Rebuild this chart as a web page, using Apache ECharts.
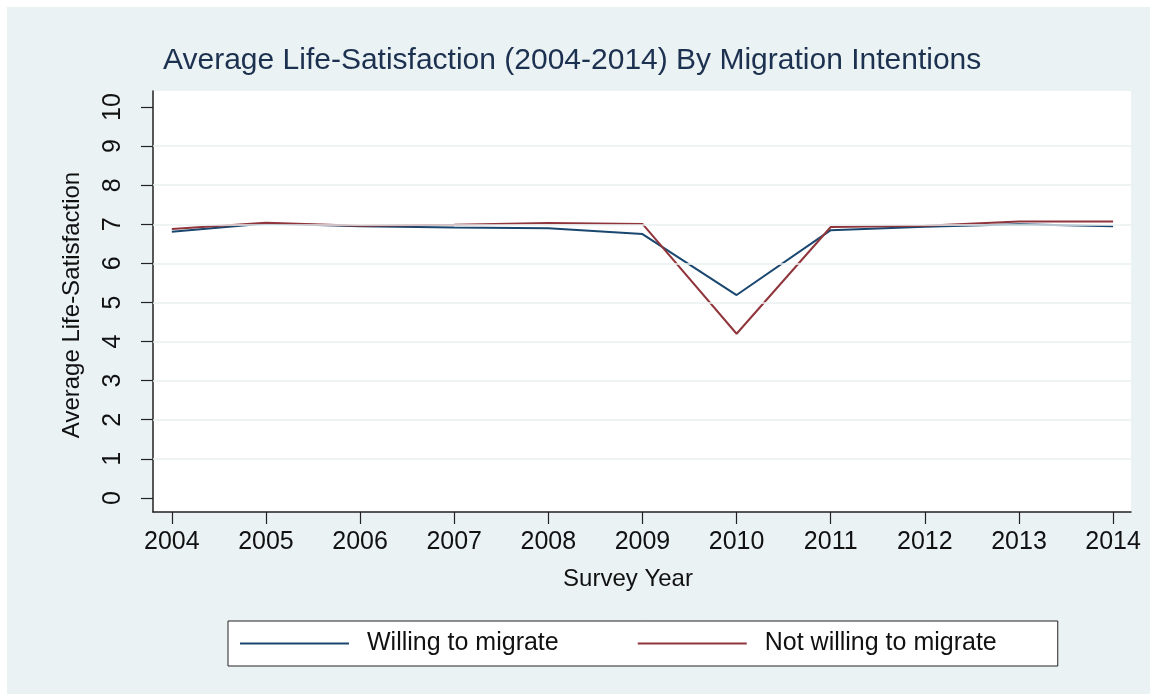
<!DOCTYPE html>
<html>
<head>
<meta charset="utf-8">
<script src="https://cdn.jsdelivr.net/npm/echarts@6/dist/echarts.min.js"></script>
<style>
html,body{margin:0;padding:0;background:#ffffff;width:1150px;height:694px;overflow:hidden;}
#chart{position:absolute;left:7px;top:7px;width:1143px;height:687px;}
</style>
</head>
<body>
<div id="chart"></div>
<script>
// ---- data ----
var years = [2004, 2005, 2006, 2007, 2008, 2009, 2010, 2011, 2012, 2013, 2014];
var willing = [6.81, 7.02, 6.95, 6.92, 6.90, 6.75, 5.19, 6.85, 6.94, 7.00, 6.95];
var notWilling = [6.88, 7.04, 6.96, 6.99, 7.03, 7.01, 4.20, 6.93, 6.96, 7.07, 7.07];
var yTicks = [0, 1, 2, 3, 4, 5, 6, 7, 8, 9, 10];
var gridValues = [1, 2, 3, 4, 5, 6, 7, 8, 9];
var seriesNames = ['Willing to migrate', 'Not willing to migrate'];
var titleText = 'Average Life-Satisfaction (2004-2014) By Migration Intentions';
var xTitle = 'Survey Year';
var yTitle = 'Average Life-Satisfaction';

function pairs(xs, ys) { return xs.map(function (x, i) { return [x, ys[i]]; }); }

var FONT = 'Liberation Sans, Arial, sans-serif';
var chart = echarts.init(document.getElementById('chart'), null, {renderer: 'canvas'});
chart.setOption({
  backgroundColor: '#eaf2f3',
  animation: false,
  title: {
    text: titleText,
    left: 156, top: 39, padding: 0,
    textStyle: {fontFamily: FONT, fontSize: 30, fontWeight: 'normal', color: '#1c3050'}
  },
  grid: {
    left: 146, top: 84, width: 978, height: 421,
    show: true, backgroundColor: '#ffffff', borderWidth: 0
  },
  xAxis: {
    type: 'value', min: 2003.8, max: 2014.19,
    axisLine: {show: true, onZero: false, lineStyle: {color: '#222', width: 1.5}},
    axisTick: {show: true, length: 12, customValues: years, lineStyle: {color: '#222', width: 1.2}},
    axisLabel: {customValues: years, margin: 18, fontFamily: FONT, fontSize: 25, color: '#111',
      formatter: function (v) { return String(v); }},
    splitLine: {show: false}
  },
  yAxis: {
    type: 'value', min: -0.36, max: 10.41,
    axisLine: {show: true, onZero: false, lineStyle: {color: '#222', width: 1.5}},
    axisTick: {show: true, length: 12, customValues: yTicks, lineStyle: {color: '#222', width: 1.2}},
    axisLabel: {customValues: yTicks, rotate: 90, margin: 27, fontFamily: FONT, fontSize: 25, color: '#111',
      formatter: function (v) { return String(v); }},
    splitLine: {show: false}
  },
  legend: {
    data: seriesNames.map(function (n) { return {name: n, icon: 'rect'}; }),
    left: 221, top: 614,
    orient: 'horizontal',
    padding: [10, 61, 10, 12],
    itemGap: 79,
    itemWidth: 109, itemHeight: 2,
    backgroundColor: '#ffffff', borderColor: '#222', borderWidth: 1, borderRadius: 0,
    textStyle: {fontFamily: FONT, fontSize: 25, color: '#111', lineHeight: 25, padding: [0, 0, 0, 13]}
  },
  graphic: [
    {type: 'text', x: 621, y: 572,
      style: {text: xTitle, font: '24px ' + FONT, fill: '#111', textAlign: 'center', textVerticalAlign: 'middle'}},
    {type: 'text', x: 65, y: 298, rotation: Math.PI / 2,
      style: {text: yTitle, font: '24px ' + FONT, fill: '#111', textAlign: 'center', textVerticalAlign: 'middle'}}
  ],
  series: [
    {
      name: 'grid', type: 'line', data: [], z: 1, silent: true,
      markLine: {silent: true, symbol: 'none', label: {show: false},
        lineStyle: {color: '#e8eff1', width: 1.5, type: 'solid'},
        data: gridValues.map(function (v) { return {yAxis: v}; })}
    },
    {
      name: seriesNames[0], type: 'line', data: pairs(years, willing), symbol: 'none', z: 3,
      lineStyle: {color: '#1a476f', width: 2}, itemStyle: {color: '#1a476f'}
    },
    {
      name: seriesNames[1], type: 'line', data: pairs(years, notWilling), symbol: 'none', z: 3,
      lineStyle: {color: '#90353b', width: 2}, itemStyle: {color: '#90353b'}
    }
  ]
});
</script>
</body>
</html>
